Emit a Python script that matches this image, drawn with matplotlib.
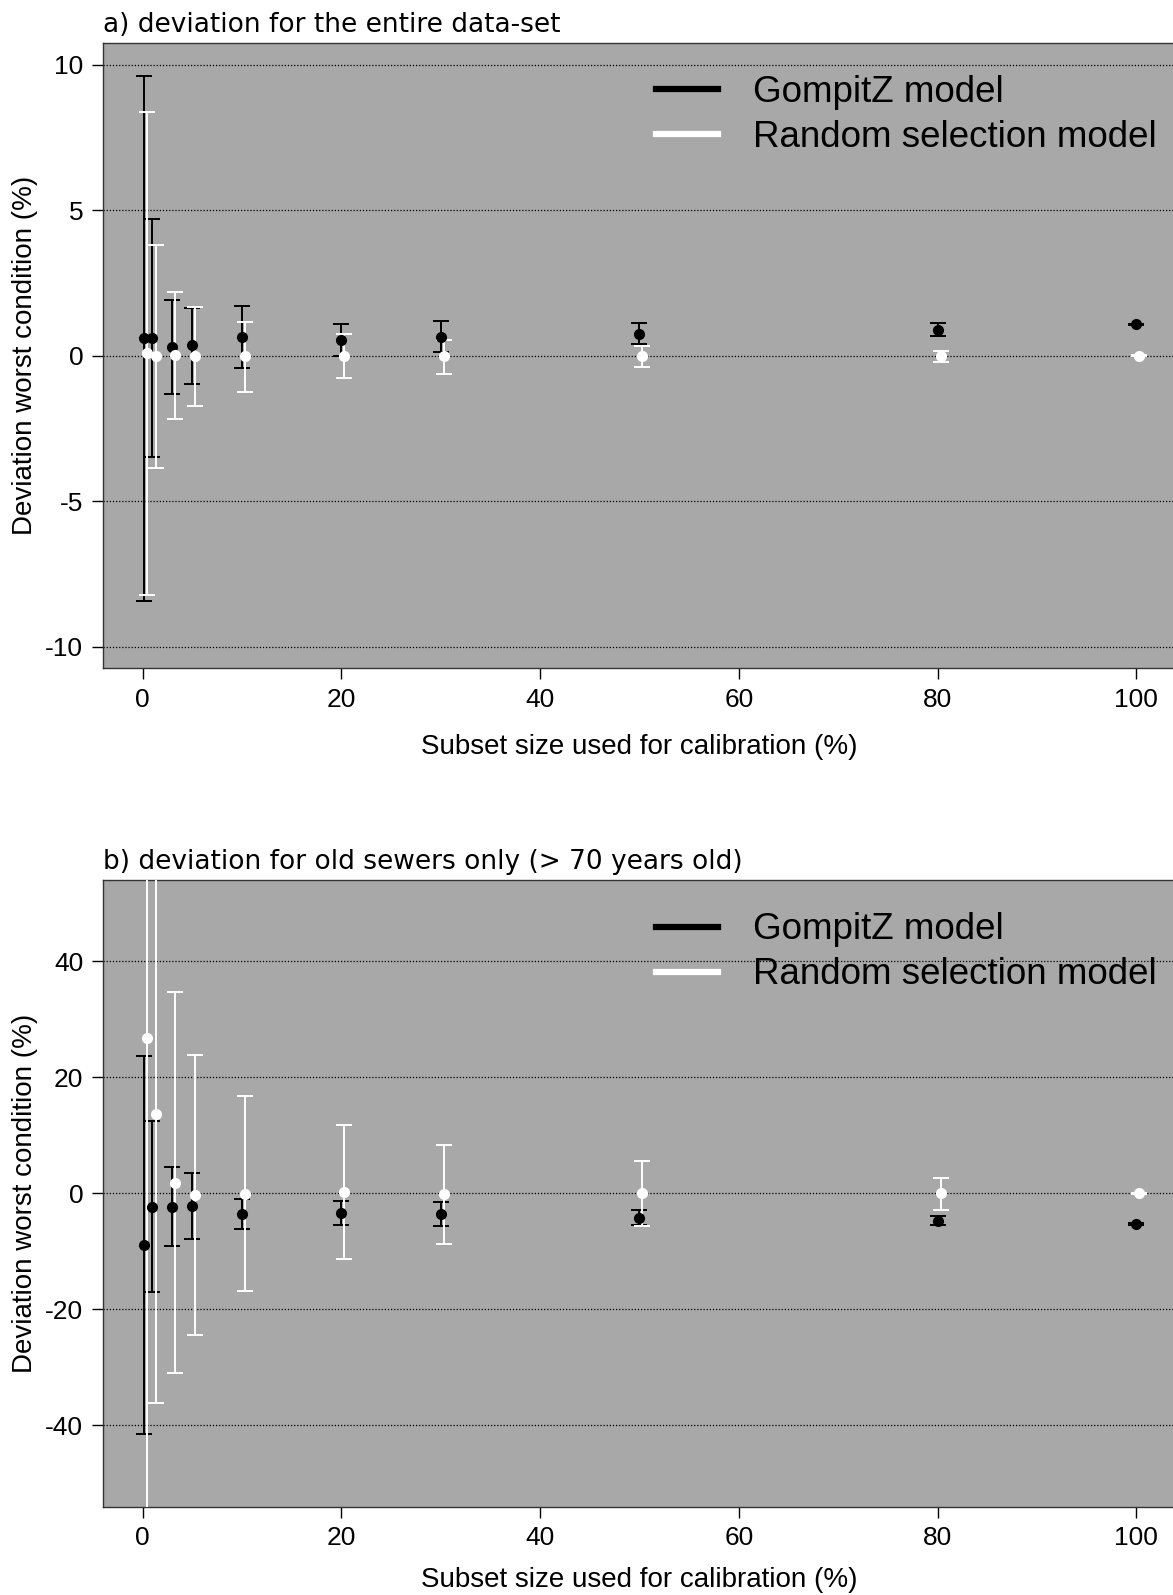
import matplotlib.pyplot as plt
from matplotlib.lines import Line2D

plt.rcParams['axes.unicode_minus'] = False
plt.rcParams['font.family'] = ['Liberation Sans', 'DejaVu Sans']

# subset sizes (%) - random model plotted slightly shifted right
x_gompitz = [0.15, 1, 3, 5, 10, 20, 30, 50, 80, 100]
x_random = [0.5, 1.35, 3.3, 5.3, 10.3, 20.3, 30.3, 50.3, 80.3, 100.3]

# a) entire data-set
a_gomp_mean = [0.59, 0.59, 0.30, 0.37, 0.65, 0.52, 0.65, 0.74, 0.88, 1.07]
a_gomp_low = [-8.42, -3.48, -1.32, -0.96, -0.41, -0.03, 0.11, 0.39, 0.66, 1.05]
a_gomp_high = [9.62, 4.68, 1.90, 1.65, 1.72, 1.10, 1.18, 1.13, 1.11, 1.09]
a_rand_mean = [0.08, -0.03, 0.03, -0.03, -0.03, 0.0, -0.02, 0.0, 0.0, 0.0]
a_rand_low = [-8.24, -3.87, -2.17, -1.72, -1.24, -0.77, -0.62, -0.40, -0.22, -0.02]
a_rand_high = [8.37, 3.79, 2.20, 1.66, 1.17, 0.75, 0.55, 0.34, 0.16, 0.02]

# b) old sewers only
b_gomp_mean = [-8.86, -2.32, -2.32, -2.18, -3.52, -3.45, -3.6, -4.2, -4.77, -5.3]
b_gomp_low = [-41.4, -17.0, -9.14, -7.95, -6.12, -5.49, -5.6, -5.5, -5.4, -5.4]
b_gomp_high = [23.6, 12.4, 4.57, 3.45, -0.98, -1.34, -1.55, -2.9, -3.97, -5.2]
b_rand_mean = [26.7, 13.6, 1.83, -0.35, -0.14, 0.14, -0.1, 0.0, 0.0, 0.0]
b_rand_low = [-75, -36.2, -31.0, -24.5, -16.9, -11.4, -8.8, -5.6, -2.8, -0.1]
b_rand_high = [75, 70, 34.7, 23.9, 16.8, 11.7, 8.3, 5.6, 2.64, 0.1]

panels = [
    ("a) deviation for the entire data-set", [0.0876, 0.5809, 0.915, 0.3923],
     (-10.75, 10.75), [-10, -5, 0, 5, 10], 16,
     (a_gomp_mean, a_gomp_low, a_gomp_high), (a_rand_mean, a_rand_low, a_rand_high)),
    ("b) deviation for old sewers only (> 70 years old)", [0.0876, 0.0554, 0.915, 0.3929],
     (-54, 54), [-40, -20, 0, 20, 40], 12,
     (b_gomp_mean, b_gomp_low, b_gomp_high), (b_rand_mean, b_rand_low, b_rand_high)),
]

fig = plt.figure(figsize=(11.73, 15.95), dpi=100)

for title, rect, ylim, yticks, xpad, gomp, rand in panels:
    ax = fig.add_axes(rect)
    ax.set_facecolor('#a8a8a8')
    for yt in yticks:
        ax.axhline(yt, color='black', linestyle=(0, (1, 1.5)), linewidth=0.9, zorder=1)

    for xs, (m, lo, hi), col in [(x_gompitz, gomp, 'black'), (x_random, rand, 'white')]:
        err = [[mi - l for mi, l in zip(m, lo)], [h - mi for mi, h in zip(m, hi)]]
        ax.errorbar(xs, m, yerr=err, fmt='o', color=col, ecolor=col, markersize=7,
                    capsize=6, elinewidth=1.4, capthick=1.4, zorder=3)

    ax.set_xlim(-4, 104)
    ax.set_ylim(*ylim)
    ax.set_xticks([0, 20, 40, 60, 80, 100])
    ax.set_yticks(yticks)
    ax.tick_params(labelsize=19, length=8, width=1, direction='out', pad=6)
    for s in ax.spines.values():
        s.set_linewidth(1.0)
        s.set_color('#333333')
    ax.set_xlabel("Subset size used for calibration (%)", fontsize=20, labelpad=xpad)
    ax.set_ylabel("Deviation worst condition (%)", fontsize=20, labelpad=5)
    ax.set_title(title, loc='left', fontsize=19, pad=8, family='DejaVu Sans')

    handles = [Line2D([], [], color='black', lw=4.5), Line2D([], [], color='white', lw=4.5)]
    ax.legend(handles, ["GompitZ model", "Random selection model"], loc='upper right',
              bbox_to_anchor=(1.013, 1.001), frameon=False, fontsize=26.5,
              handlelength=1.7, handletextpad=0.95, labelspacing=0.27)

fig.savefig("out.png", dpi=100)
